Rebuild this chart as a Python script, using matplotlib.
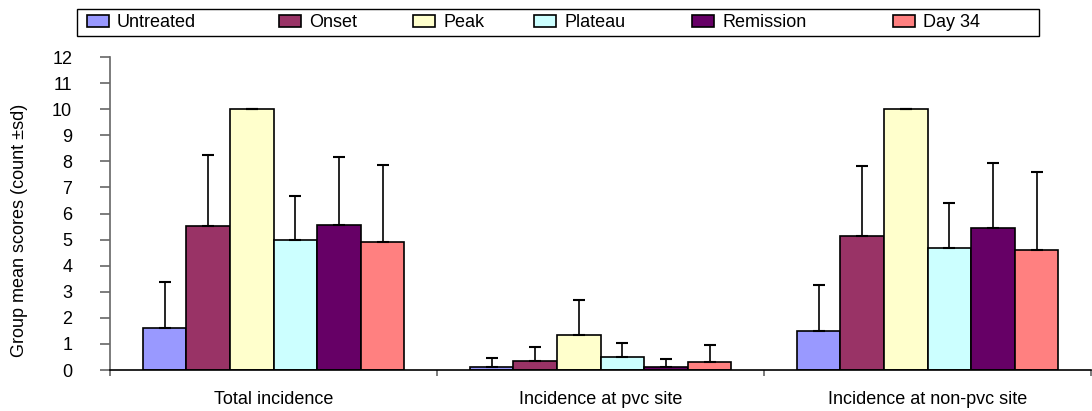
import numpy as np
import matplotlib
matplotlib.use("Agg")
import matplotlib.pyplot as plt
from matplotlib.patches import Rectangle

plt.rcParams['font.family'] = ['Liberation Sans', 'DejaVu Sans']

categories = ["Total incidence", "Incidence at pvc site", "Incidence at non-pvc site"]
series = ["Untreated", "Onset", "Peak", "Plateau", "Remission", "Day 34"]
colors = ["#9999FF", "#993366", "#FFFFCC", "#CCFFFF", "#660066", "#FF8080"]

means = {
    "Untreated": [1.62, 0.13, 1.50],
    "Onset":     [5.51, 0.36, 5.13],
    "Peak":      [10.0, 1.33, 10.0],
    "Plateau":   [5.00, 0.49, 4.67],
    "Remission": [5.56, 0.10, 5.46],
    "Day 34":    [4.90, 0.31, 4.60],
}
sds = {
    "Untreated": [1.76, 0.34, 1.77],
    "Onset":     [2.72, 0.54, 2.70],
    "Peak":      [0.00, 1.36, 0.00],
    "Plateau":   [1.67, 0.56, 1.74],
    "Remission": [2.59, 0.33, 2.46],
    "Day 34":    [2.97, 0.66, 3.00],
}

W, H = 1092, 411
FS = 13
fig = plt.figure(figsize=(W / 100, H / 100), dpi=100)
ax = fig.add_axes([110 / W, 1 - 370 / H, 981 / W, 313 / H])

n = len(series)
group_w = 0.8
bar_w = group_w / n
x = np.arange(len(categories))

handles = []
for i, (s, c) in enumerate(zip(series, colors)):
    pos = x - group_w / 2 + bar_w * (i + 0.5)
    bars = ax.bar(pos, means[s], width=bar_w, color=c, edgecolor="black",
                  linewidth=1.2, label=s, zorder=2)
    handles.append(bars)
    ax.errorbar(pos, means[s], yerr=[np.zeros(len(categories)), sds[s]],
                fmt="none", ecolor="black", elinewidth=1.2, capsize=4,
                capthick=1.5, zorder=3)

ax.set_xlim(-0.5, len(categories) - 0.5)
ax.set_ylim(0, 12)
ax.set_yticks(np.arange(0, 13, 1))
ax.set_xticks(np.arange(-0.5, len(categories), 1.0))
ax.set_xticklabels([])
ax.set_xticks(x, minor=True)
ax.set_xticklabels(categories, minor=True)
ax.tick_params(axis="x", which="minor", length=0, pad=15, labelsize=FS)
ax.tick_params(axis="x", which="major", direction="out", length=4.5,
               color="#666666", width=1.2)
ax.tick_params(axis="y", direction="out", length=7.2, labelsize=FS,
               color="#666666", width=1.2, pad=20)

for side in ("top", "right"):
    ax.spines[side].set_visible(False)
ax.spines["left"].set_color("#666666")
ax.spines["bottom"].set_color("black")
ax.spines["left"].set_linewidth(1.2)
ax.spines["bottom"].set_linewidth(1.2)

fig.text(20 / W, 1 - 230 / H, "Group mean scores (count \u00b1sd)", rotation=90,
         ha="center", va="center", fontsize=FS)

# legend: framed strip with one entry per series
fig.patches.append(Rectangle((77 / W, 1 - 36 / H), (1039 - 77) / W, 27 / H,
                             transform=fig.transFigure, facecolor="white",
                             edgecolor="black", linewidth=1.0, zorder=1))
entry_x = [86.7, 279.3, 413.3, 534.0, 692.3, 893.3]
for h, s, ex in zip(handles, series, entry_x):
    lg = fig.legend([h], [s], loc="center left",
                    bbox_to_anchor=(ex / W, 1 - 22.5 / H), frameon=False,
                    fontsize=FS, handlelength=1.22, handleheight=0.66,
                    handletextpad=0.45, borderpad=0, borderaxespad=0)
    lg.set_zorder(2)

fig.savefig("out.png", dpi=100, facecolor="white")
